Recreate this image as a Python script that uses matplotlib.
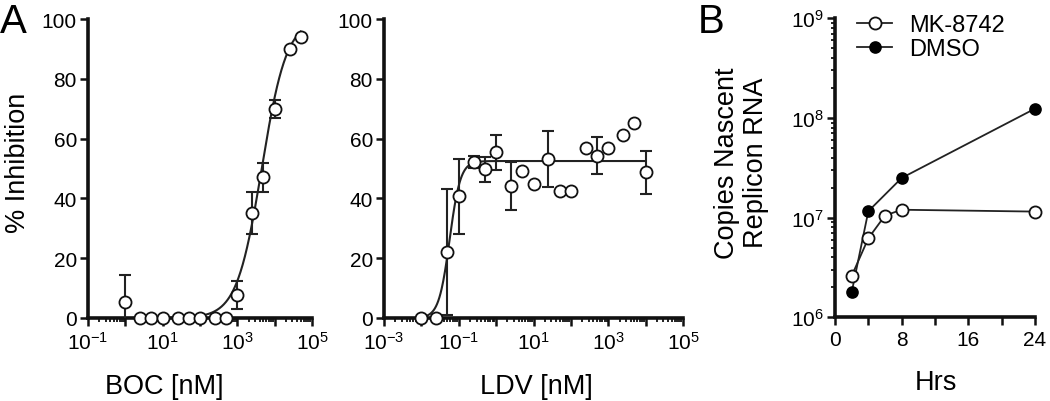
import numpy as np
import matplotlib
matplotlib.use('Agg')
import matplotlib.pyplot as plt
from matplotlib.ticker import FixedLocator, FuncFormatter, LogLocator, NullFormatter, MultipleLocator

plt.rcParams['font.family'] = ['Liberation Sans', 'DejaVu Sans']
plt.rcParams['mathtext.fontset'] = 'custom'
plt.rcParams['mathtext.rm'] = 'Liberation Sans'
plt.rcParams['mathtext.it'] = 'Liberation Sans:italic'
plt.rcParams['mathtext.bf'] = 'Liberation Sans:bold'
plt.rcParams['mathtext.default'] = 'regular'
plt.rcParams['axes.unicode_minus'] = False

# ---------------- data ----------------
boc_conc = [1, 2.5, 5, 10, 25, 50, 100, 250, 500, 1000, 2500, 5000, 10000, 25000, 50000]
boc_inhib = [5.3, 0, 0, 0, 0, 0, 0, 0, 0, 7.7, 35, 47, 70, 90, 94]
boc_err = [9, 0, 0, 0, 0, 0, 0, 0, 0, 4.6, 7, 5, 3, 0, 0]
boc_fit = dict(bottom=0.0, top=100.0, ec50=4500.0, hill=1.3)

ldv_conc = [0.01, 0.025, 0.05, 0.1, 0.25, 0.5, 1, 2.5, 5, 10, 25, 50, 100,
            250, 500, 1000, 2500, 5000, 10000]
ldv_inhib = [0, 0, 22, 40.7, 52.3, 49.8, 55.4, 44.2, 49.3, 44.7, 53.2, 42.6, 42.6,
             56.8, 54.3, 56.8, 61.2, 65.1, 48.7]
ldv_err = [0, 0, 21, 12.5, 2, 4.2, 5.8, 8.1, 0, 0, 9.4, 0, 0,
           0, 6.2, 0, 0, 0, 7.1]
ldv_fit = dict(bottom=0.0, top=52.5, ec50=0.057, hill=3.0)

hrs_mk = [2, 4, 6, 8, 24]
copies_mk = [2.6e6, 6.2e6, 1.05e7, 1.2e7, 1.15e7]
hrs_dmso = [2, 4, 8, 24]
copies_dmso = [1.78e6, 1.16e7, 2.5e7, 1.24e8]

# ---------------- figure ----------------
W, H = 1050, 402
fig = plt.figure(figsize=(W / 100, H / 100), dpi=100)


def px_axes(left, top, right, bottom):
    return fig.add_axes([left / W, (H - bottom) / H, (right - left) / W, (bottom - top) / H])


ax1 = px_axes(88, 20, 312, 319)
ax2 = px_axes(384, 20, 683, 319)
ax3 = px_axes(835, 19.3, 1035, 318.3)

TICK_FS = 15
LABEL_FS = 19.5
SPINE_LW = 2.6
LINE_C = '#222222'


def style(ax):
    for s in ['top', 'right']:
        ax.spines[s].set_visible(False)
    for s in ['left', 'bottom']:
        ax.spines[s].set_linewidth(SPINE_LW)
        ax.spines[s].set_color('#111111')
    ax.tick_params(which='major', direction='out', length=5.5, width=1.8,
                   labelsize=TICK_FS, pad=2.5, color='#111111')
    ax.tick_params(which='minor', direction='out', length=3.2, width=1.3, color='#111111')


def decade_fmt(v, pos):
    e = int(round(np.log10(v)))
    if e % 2 == 1:
        return r'$10^{%d}$' % e
    return ''


def hill(x, p):
    x = np.asarray(x, dtype=float)
    return p['bottom'] + (p['top'] - p['bottom']) / (1 + (p['ec50'] / x) ** p['hill'])


def dose_panel(ax, conc, inhib, err, fit, xmin_exp, xlabel, label_x):
    conc = np.asarray(conc, float)
    inhib = np.asarray(inhib, float)
    err = np.asarray(err, float)
    xs = np.logspace(np.log10(conc.min()), np.log10(conc.max()), 400)
    ax.plot(xs, hill(xs, fit), color=LINE_C, lw=1.5, zorder=2)
    m = err > 0
    ax.errorbar(conc[m], inhib[m], yerr=err[m], fmt='none', ecolor=LINE_C,
                elinewidth=1.5, capsize=4.2, capthick=1.5, zorder=3)
    ax.plot(conc, inhib, 'o', ms=8.7, mfc='white', mec='#111111', mew=1.3,
            ls='none', zorder=4, clip_on=False)
    ax.set_xscale('log')
    ax.set_xlim(10.0 ** xmin_exp, 1e5)
    ax.set_ylim(0, 100)
    ax.xaxis.set_major_locator(FixedLocator(10.0 ** np.arange(xmin_exp, 6)))
    ax.xaxis.set_major_formatter(FuncFormatter(decade_fmt))
    ax.xaxis.set_minor_locator(LogLocator(base=10, subs=np.arange(2, 10), numticks=30))
    ax.xaxis.set_minor_formatter(NullFormatter())
    ax.yaxis.set_major_locator(MultipleLocator(20))
    style(ax)
    ax.tick_params(axis='x', which='major', pad=3.5)
    ax.set_xlabel(xlabel, fontsize=LABEL_FS)
    ax.xaxis.label.set_va('center')
    ax.xaxis.set_label_coords(label_x, -0.226)


dose_panel(ax1, boc_conc, boc_inhib, boc_err, boc_fit, -1, 'BOC [nM]', (164 - 88) / 224)
dose_panel(ax2, ldv_conc, ldv_inhib, ldv_err, ldv_fit, -3, 'LDV [nM]', (536 - 384) / 299)

ax1.set_ylabel('% Inhibition', fontsize=LABEL_FS)
ax1.yaxis.label.set_va('center')
ax1.yaxis.set_label_coords((18 - 88) / 224, (319 - 163) / 299)

# ---------------- panel B ----------------
ax3.plot(hrs_dmso, copies_dmso, '-o', color=LINE_C, lw=1.3, ms=8, mfc='black',
         mec='black', mew=1.1, label='DMSO', zorder=3, clip_on=False)
ax3.plot(hrs_mk, copies_mk, '-o', color=LINE_C, lw=1.3, ms=8.7, mfc='white',
         mec='#111111', mew=1.3, label='MK-8742', zorder=4, clip_on=False)
ax3.set_yscale('log')
ax3.set_ylim(1e6, 1e9)
ax3.set_xlim(0, 24)
ax3.xaxis.set_major_locator(MultipleLocator(8))
ax3.xaxis.set_minor_locator(MultipleLocator(4))
ax3.yaxis.set_major_locator(LogLocator(base=10, numticks=10))
ax3.yaxis.set_major_formatter(FuncFormatter(lambda v, p: r'$10^{%d}$' % int(round(np.log10(v)))))
ax3.yaxis.set_minor_locator(LogLocator(base=10, subs=np.arange(2, 10), numticks=30))
ax3.yaxis.set_minor_formatter(NullFormatter())
style(ax3)
ax3.tick_params(axis='x', which='minor', length=5.5, width=1.8)
ax3.tick_params(axis='x', which='major', pad=3.5)
ax3.set_xlabel('Hrs', fontsize=LABEL_FS)
ax3.xaxis.label.set_va('center')
ax3.xaxis.set_label_coords((936 - 835) / 200, (318.3 - 383) / 299)
ax3.set_ylabel('Copies Nascent\nReplicon RNA', fontsize=LABEL_FS, linespacing=1.15)
ax3.yaxis.label.set_va('center')
ax3.yaxis.set_label_coords((741.5 - 835) / 200, (318.3 - 163) / 299)

handles, labels = ax3.get_legend_handles_labels()
ax3.legend(handles[::-1], labels[::-1], loc='upper left', bbox_to_anchor=(0.11, 1.015),
           frameon=False, fontsize=17, handlelength=1.5, handletextpad=0.7,
           labelspacing=0.1, borderpad=0, borderaxespad=0)

# panel letters
fig.text(0 / W, 1 - 33 / H, 'A', fontsize=29, va='baseline', ha='left')
fig.text(698 / W, 1 - 33 / H, 'B', fontsize=29, va='baseline', ha='left')

fig.savefig('out.png', dpi=100)
